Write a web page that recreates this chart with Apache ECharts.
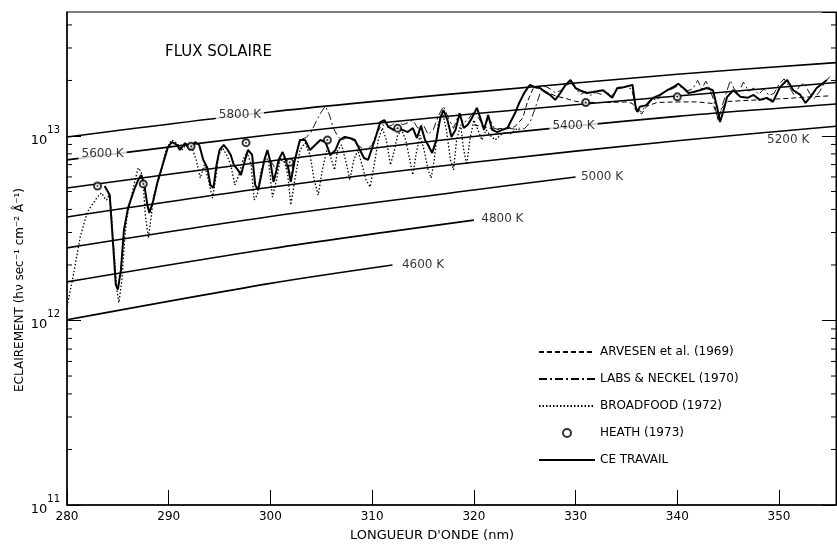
<!DOCTYPE html>
<html><head><meta charset="utf-8">
<script src="https://cdn.jsdelivr.net/npm/echarts@6/dist/echarts.min.js"></script>
<style>html,body{margin:0;padding:0;background:#fff}#c{width:837px;height:544px}</style>
</head><body><div id="c"></div>
<script>
// values in units of 1e12 photons s-1 cm-2 A-1 ; wavelength in nm
const xTickValues = [280,290,300,310,320,330,340,350];
const yMinorTicks = [0.2,0.3,0.4,0.5,0.6,0.7,0.8,0.9,2,3,4,5,6,7,8,9,20,30,40];

const bb5800 = [[280,9.88],[300,13.5],[320,17.3],[340,21.6],[355.6,25.0]];
const bb5600 = [[280,7.42],[300,10.16],[320,13.2],[340,16.46],[355.6,19.5]];
const bb5400 = [[280,5.23],[300,7.32],[320,9.94],[340,12.78],[355.6,14.9]];
const bb5200 = [[280,3.64],[300,5.27],[320,7.21],[340,9.42],[355.6,11.3]];
const bb5000 = [[280,2.475],[300,3.66],[320,5.10],[330,6.0]];
const bb4800 = [[280,1.62],[300,2.45],[320,3.5]];
const bb4600 = [[280,1.009],[300,1.59],[312,2.0]];

const tempLabels = [
  [297.0,13.0,'5800 K'],[283.5,8.0,'5600 K'],[329.8,11.3,'5400 K'],[350.9,9.5,'5200 K'],
  [332.6,6.0,'5000 K'],[322.8,3.55,'4800 K'],[315.0,2.0,'4600 K']
];

const ceTravail = [
[283.7,5.36],[284.2,4.79],[284.5,2.74],[284.8,1.56],[285.0,1.47],[285.3,1.88],[285.6,3.10],[286.0,4.08],
[286.6,5.10],[287.0,5.78],[287.3,6.15],[287.6,5.43],[287.9,4.23],[288.1,3.83],[288.5,4.50],[288.9,5.64],
[289.4,6.97],[289.9,8.61],[290.3,9.28],[290.8,8.94],[291.1,8.40],[291.6,9.16],[292.1,8.40],[292.6,9.28],
[293.0,8.94],[293.4,7.42],[293.8,6.71],[294.1,5.43],[294.4,5.23],[294.7,6.97],[295.0,8.40],[295.4,8.94],
[295.8,8.40],[296.1,7.89],[296.4,6.97],[296.8,6.55],[297.1,6.15],[297.5,7.42],[297.8,8.40],[298.2,7.89],
[298.5,5.43],[298.8,5.10],[299.1,6.15],[299.4,7.42],[299.7,8.40],[300.0,7.23],[300.3,5.64],[300.6,6.55],
[300.8,7.42],[301.2,8.19],[301.7,6.97],[302.0,5.64],[302.4,7.42],[302.9,9.51],[303.4,9.51],[303.9,8.40],
[304.4,8.94],[304.9,9.51],[305.4,9.28],[305.9,7.89],[306.4,8.40],[306.8,9.51],[307.3,9.88],[307.8,9.75],
[308.3,9.51],[308.8,8.40],[309.2,7.60],[309.6,7.42],[310.0,8.61],[310.4,10.1],[310.8,11.9],[311.2,12.2],
[311.6,11.2],[312.1,10.8],[312.5,11.05],[313.0,10.8],[313.5,10.5],[314.0,11.05],[314.4,9.75],[314.8,11.35],
[315.2,9.51],[315.5,8.94],[315.9,8.09],[316.3,9.51],[316.7,12.5],[317.0,13.8],[317.4,12.2],[317.8,9.88],
[318.2,10.8],[318.6,13.3],[319.0,11.05],[319.4,11.5],[319.8,12.5],[320.3,14.2],[320.7,12.2],[321.0,10.8],
[321.4,13.0],[321.8,10.8],[322.3,10.5],[322.8,10.8],[323.3,11.05],[323.7,12.2],[324.1,13.5],[324.5,15.3],
[325.0,17.3],[325.5,18.9],[326.0,18.4],[326.5,18.2],[327.0,17.3],[327.5,16.7],[328.0,15.7],[328.5,17.1],
[329.0,18.9],[329.5,20.1],[330.0,18.2],[330.4,17.7],[331.1,17.1],[331.7,17.3],[332.7,17.7],[333.6,16.1],
[334.1,18.2],[334.7,18.4],[335.6,18.9],[335.7,17.1],[335.9,14.4],[336.1,13.5],[336.3,14.4],[337.0,14.7],
[337.6,16.1],[338.3,16.7],[339.0,17.7],[339.6,18.4],[340.1,19.2],[340.6,18.2],[341.1,17.1],[341.6,17.3],
[342.2,17.7],[342.9,18.2],[343.5,17.7],[343.9,14.4],[344.2,11.9],[344.5,13.5],[344.9,16.3],[345.5,17.7],
[346.2,16.3],[346.9,16.1],[347.5,16.7],[348.1,15.7],[348.8,16.1],[349.4,15.3],[350.1,18.4],[350.8,20.1],
[351.4,17.7],[352.1,16.7],[352.6,15.1],[353.1,16.3],[353.7,18.2],[354.7,20.1]
];

const broadfood = [
[280.0,1.19],[280.6,1.73],[281.3,2.84],[282.0,3.88],[282.6,4.34],[283.0,4.68],[283.4,4.92],[283.7,4.61],
[283.9,4.50],[284.1,4.79],[284.3,4.23],[284.6,2.42],[284.9,1.47],[285.1,1.25],[285.4,1.66],[285.7,2.91],
[285.9,3.64],[286.4,4.92],[286.7,5.78],[287.0,6.71],[287.3,6.38],[287.5,5.43],[287.7,3.74],[288.0,2.80],
[288.3,3.74],[288.5,4.68],[288.8,5.43],[289.1,6.0],[289.5,7.42],[289.8,8.61],[290.3,9.51],[290.8,9.16],
[291.3,8.40],[291.8,9.16],[292.3,8.61],[292.7,7.42],[293.1,5.92],[293.5,6.97],[293.9,5.78],[294.3,4.61],
[294.6,5.78],[294.9,7.89],[295.3,8.61],[295.7,7.89],[296.1,6.97],[296.5,5.43],[296.9,6.15],[297.3,7.42],
[297.7,8.19],[298.1,6.97],[298.4,4.50],[298.7,4.79],[299.1,6.55],[299.5,7.60],[299.8,7.42],[300.2,4.67],
[300.6,5.78],[300.9,7.15],[301.3,7.60],[301.7,6.15],[302.0,4.23],[302.4,5.78],[302.9,8.40],[303.4,9.16],
[303.9,7.89],[304.3,5.78],[304.7,4.79],[305.1,6.55],[305.6,8.61],[306.0,7.42],[306.3,6.55],[306.6,8.40],
[307.0,8.94],[307.5,6.97],[307.8,5.78],[308.2,7.42],[308.6,8.40],[309.0,6.97],[309.4,5.78],[309.8,5.29],
[310.2,6.97],[310.6,9.51],[311.0,11.05],[311.4,9.51],[311.8,6.97],[312.2,8.40],[312.5,10.1],[312.9,10.8],
[313.3,9.51],[313.7,7.42],[314.0,6.15],[314.3,7.89],[314.7,10.1],[315.1,8.40],[315.5,6.55],[315.8,5.92],
[316.1,7.42],[316.5,11.5],[316.9,13.5],[317.3,10.8],[317.7,7.42],[318.0,6.55],[318.3,9.51],[318.7,11.5],
[319.0,8.40],[319.3,6.97],[319.6,9.51],[320.0,12.2],[320.4,10.8],[320.8,9.51],[321.2,10.8],[321.6,10.1],
[322.1,9.51],[322.6,10.1],[323.1,10.5],[323.6,10.3],[324.1,10.8],[324.5,11.05]
];

const labsNeckel = [
[300.0,7.4],[300.5,6.6],[301.0,7.6],[301.5,7.0],[302.0,6.2],[302.5,8.0],[303.0,9.6],[303.5,9.8],[304.0,10.5],
[304.5,12.0],[305.0,13.5],[305.4,14.5],[305.8,13.0],[306.2,11.0],[306.6,10.0],[307.0,9.5],[307.5,9.8],[308.0,9.6],
[308.5,9.0],[309.0,8.6],[309.5,8.4],[310.0,9.0],[310.5,10.5],[311.0,11.5],[311.5,11.2],[312.0,11.5],[312.5,12.0],
[313.0,11.5],[313.5,11.8],[314.0,12.2],[314.5,11.0],[315.0,11.6],[315.5,10.2],[316.0,10.8],[316.5,12.8],[317.0,14.5],
[317.5,12.5],[318.0,11.0],[318.5,13.0],[319.0,11.8],[319.5,12.4],[320.0,13.6],[320.5,12.4],[321.0,11.2],[321.5,12.6],
[322.0,11.0],[322.5,10.8],[323.0,10.9],[323.5,11.0],[324.0,10.9],[324.5,10.8],[325.0,11.0],[325.5,11.8],[326.0,14.0],
[326.5,17.0],[327.0,18.6],[327.5,18.0],[328.0,17.2],[328.5,17.6],[329.0,18.4],[329.5,19.6],[330.0,18.0],[330.5,16.8],
[331.0,17.4],[331.5,16.6],[332.0,17.2],[332.5,16.8],[333.0,17.6],[333.5,16.4],[334.0,17.8],[334.5,18.2],[335.0,18.4],
[335.5,18.0],[336.0,14.0],[336.5,13.5],[337.0,15.0],[337.5,16.0],[338.0,15.6],[338.5,17.0],[339.0,17.6],[339.5,18.0],
[340.0,18.6],[340.5,18.4],[341.0,17.6],[341.5,18.0],[342.0,20.0],[342.4,18.0],[342.8,19.8],[343.2,18.0],[343.6,15.5],
[344.0,12.0],[344.4,14.5],[344.8,17.0],[345.2,20.0],[345.6,18.0],[346.0,17.0],[346.5,19.6],[347.0,17.5],[347.5,18.2],
[348.0,16.8],[348.5,18.0],[349.0,16.6],[349.5,17.0],[350.0,19.0],[350.5,20.4],[351.0,18.5],[351.5,16.6],[352.0,18.6],
[352.5,19.4],[353.0,17.0],[353.5,16.0],[354.0,17.5],[354.5,19.5],[355.0,21.0]
];

const arvesen = [
[320.0,11.5],[321.0,11.2],[322.0,10.9],[323.0,11.0],[324.0,11.2],[324.8,12.5],[325.3,15.5],[325.8,18.0],[326.3,18.3],
[327.0,17.5],[328.0,16.5],[329.0,16.0],[330.0,15.4],[331.0,15.2],[333.0,15.2],[335.0,15.3],[335.6,15.0],[336.0,13.6],
[336.5,13.2],[337.0,14.5],[338.0,15.2],[340.0,15.3],[342.0,15.3],[343.5,15.0],[344.0,12.5],[344.5,14.5],[345.0,15.4],
[347.0,15.6],[349.0,15.8],[351.0,16.0],[353.0,16.3],[355.0,16.5]
];

const heath = [[283.0,5.36],[287.5,5.5],[292.2,8.8],[297.6,9.2],[301.9,7.2],[305.6,9.5],[312.5,11.0],[331.0,15.2],[340.0,16.3]];

const FONT = 'DejaVu Sans';
const X_MIN = 280, X_MAX = 355.6, Y_MIN = 0.1, Y_MAX = 47;
const NAMES = ['ARVESEN et al. (1969)','LABS & NECKEL (1970)','BROADFOOD (1972)','HEATH (1973)','CE TRAVAIL'];

function specLine(name, data, ls, z) {
  return {type:'line', name, data, symbol:'none', showSymbol:false, animation:false, silent:true, z,
    itemStyle:{color:'#000'}, lineStyle:Object.assign({color:'#000'}, ls)};
}
function bbLine(data) {
  return {type:'line', data, symbol:'none', showSymbol:false, smooth:0.3, animation:false, silent:true, z:2,
    itemStyle:{color:'#000'}, lineStyle:{color:'#000', width:1.6}};
}

const chart = echarts.init(document.getElementById('c'));
chart.setOption({
  backgroundColor:'#fff',
  animation:false,
  textStyle:{fontFamily:FONT},
  grid:{left:67, right:1, top:12, bottom:39, show:true, borderColor:'#000', borderWidth:1},
  xAxis:{type:'value', min:X_MIN, max:X_MAX, interval:10,
    axisLine:{lineStyle:{color:'#000', width:1.5}},
    axisTick:{inside:true, length:15, lineStyle:{color:'#000'}},
    splitLine:{show:false},
    axisLabel:{color:'#000', fontSize:12, fontFamily:FONT, margin:6, showMaxLabel:false,
      formatter:v => (xTickValues.indexOf(v) >= 0 ? String(v) : '')}},
  yAxis:[
    {type:'log', logBase:10, min:Y_MIN, max:Y_MAX,
      axisLine:{lineStyle:{color:'#000', width:1.5}},
      axisTick:{inside:true, length:14, lineStyle:{color:'#000'}},
      splitLine:{show:false}, minorTick:{show:false},
      axisLabel:{margin:7, showMaxLabel:false,
        formatter:v => { const e = Math.round(Math.log10(v)) + 12; return '{b|10}{s|' + e + '}'; },
        rich:{b:{fontSize:13, color:'#000', fontFamily:FONT, verticalAlign:'bottom', lineHeight:22},
              s:{fontSize:10, color:'#000', fontFamily:FONT, verticalAlign:'top', lineHeight:22}}}},
    {type:'log', logBase:10, min:Y_MIN, max:Y_MAX, position:'right',
      axisLine:{show:true, lineStyle:{color:'#000', width:1}},
      axisTick:{inside:true, length:14, lineStyle:{color:'#000'}},
      axisLabel:{show:false}, splitLine:{show:false}}
  ],
  legend:{orient:'vertical', left:533, top:341, itemWidth:56, itemHeight:8, itemGap:15, selectedMode:false,
    textStyle:{fontFamily:FONT, fontSize:12, color:'#000'},
    data:[
      {name:NAMES[0], itemStyle:{opacity:0}},
      {name:NAMES[1], itemStyle:{opacity:0}},
      {name:NAMES[2], itemStyle:{opacity:0}},
      {name:NAMES[3], icon:'emptyCircle', itemStyle:{color:'#000', borderColor:'#000', borderWidth:1}},
      {name:NAMES[4], itemStyle:{opacity:0}}
    ]},
  graphic:[
    {type:'text', left:165, top:45, style:{text:'FLUX SOLAIRE', font:'15px "DejaVu Sans"', fill:'#000'}},
    {type:'text', left:350, top:529, style:{text:"LONGUEUR D'ONDE (nm)", font:'13px "DejaVu Sans"', fill:'#000'}},
    {type:'text', x:20, y:290, rotation:Math.PI/2, style:{text:'ECLAIREMENT (hν sec⁻¹ cm⁻² Å⁻¹)', font:'12px "DejaVu Sans"', fill:'#000', align:'center', verticalAlign:'middle'}}
  ],
  series:[
    bbLine(bb5800), bbLine(bb5600), bbLine(bb5400), bbLine(bb5200), bbLine(bb5000), bbLine(bb4800), bbLine(bb4600),
    {type:'scatter', data:tempLabels, symbolSize:0, z:5, silent:true,
      label:{show:true, position:'inside', formatter:p => p.data[2], color:'#000', fontSize:12, fontFamily:FONT,
        backgroundColor:'#fff', padding:[1,3]}},
    specLine(NAMES[0], arvesen, {width:1, type:[5,3]}, 3),
    specLine(NAMES[1], labsNeckel, {width:0.9, type:[8,3,2,3]}, 3),
    specLine(NAMES[2], broadfood, {width:1.3, type:[1.5,2]}, 3),
    {type:'scatter', name:NAMES[3], data:heath, symbol:'emptyCircle', symbolSize:7, z:6, silent:true,
      itemStyle:{color:'#000', borderColor:'#000', borderWidth:1}},
    {type:'scatter', data:heath, symbol:'circle', symbolSize:2, z:7, silent:true, itemStyle:{color:'#000'}},
    specLine(NAMES[4], ceTravail, {width:2}, 4),
    {type:'custom', data:yMinorTicks.map(v => [X_MIN, v]), z:3, silent:true,
      renderItem:(params, api) => {
        const cs = params.coordSys;
        const y = api.coord([X_MIN, api.value(1)])[1];
        return {type:'group', children:[
          {type:'line', shape:{x1:cs.x, y1:y, x2:cs.x + 5, y2:y}, style:{stroke:'#000', lineWidth:1}},
          {type:'line', shape:{x1:cs.x + cs.width - 5, y1:y, x2:cs.x + cs.width, y2:y}, style:{stroke:'#000', lineWidth:1}}
        ]};
      }}
  ]
});
</script></body></html>
